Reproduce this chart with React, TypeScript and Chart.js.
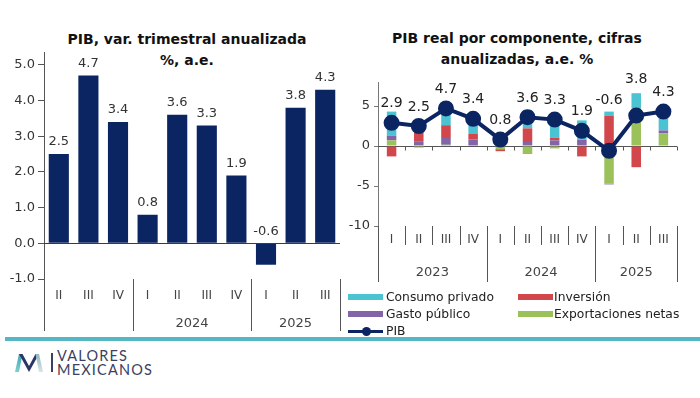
import React, { useEffect, useRef } from 'react';
import { Chart, registerables } from 'chart.js';

Chart.register(...registerables);

const FONT = "'DejaVu Sans', Verdana, sans-serif";

// ---- Left chart data ----
const leftQuarters = ['II', 'III', 'IV', 'I', 'II', 'III', 'IV', 'I', 'II', 'III'];
const leftYearLabels = ['', '2024', '2025'];
const leftYearSpans = [3, 4, 3];
const gdpQuarterly = [2.5, 4.7, 3.4, 0.8, 3.6, 3.3, 1.9, -0.6, 3.8, 4.3];
const leftTicks = [-1, 0, 1, 2, 3, 4, 5];

// ---- Right chart data ----
const rightQuarters = ['I', 'II', 'III', 'IV', 'I', 'II', 'III', 'IV', 'I', 'II', 'III'];
const rightYearLabels = ['2023', '2024', '2025'];
const rightYearSpans = [4, 4, 3];
const consumoPrivado = [3.0, 0.0, 1.8, 1.8, 1.2, 2.3, 2.5, 2.4, 0.5, 1.9, 2.5];
const inversion = [-1.3, 1.5, 1.6, 0.7, -0.25, 1.7, 0.35, -1.3, 3.8, -2.65, 0.0];
const gastoPublico = [0.6, 0.6, 0.85, 0.8, 0.3, 0.5, 0.7, 0.8, -0.1, 0.0, 0.35];
const exportacionesNetas = [0.7, -0.2, 0.15, 0.0, -0.4, -1.0, -0.3, 0.0, -4.7, 4.7, 1.6];
const pibReal = [2.9, 2.5, 4.7, 3.4, 0.8, 3.6, 3.3, 1.9, -0.6, 3.8, 4.3];
const rightTicks = [-10, -5, 0, 5];

const NAVY = '#0B2563';
const CYAN = '#4BC3D3';
const RED = '#D2474B';
const PURPLE = '#8464A8';
const GREEN = '#9BC15A';
const AXIS = '#555';
const TXT = '#333';

function boundsFrom(spans: number[]) {
  const b = [0];
  let acc = 0;
  spans.forEach((s) => {
    acc += s;
    b.push(acc);
  });
  return b;
}

const leftDecor = {
  id: 'leftDecor',
  afterDatasetsDraw(chart: any) {
    const { ctx, chartArea: a, scales } = chart;
    const x = scales.x;
    const y = scales.y;
    const y0 = Math.round(y.getPixelForValue(0)) + 0.5;
    ctx.save();
    ctx.strokeStyle = '#3a3a3a';
    ctx.lineWidth = 1;
    ctx.beginPath();
    ctx.moveTo(a.left, y0);
    ctx.lineTo(a.right, y0);
    ctx.stroke();

    ctx.fillStyle = TXT;
    ctx.textAlign = 'center';
    ctx.textBaseline = 'middle';
    ctx.font = `13px ${FONT}`;
    const meta = chart.getDatasetMeta(0);
    meta.data.forEach((bar: any, i: number) => {
      const v = gdpQuarterly[i];
      const top = v >= 0 ? bar.y : y0;
      ctx.fillText(v.toFixed(1), bar.x, top - 12);
    });

    const step = (a.right - a.left) / leftQuarters.length;
    ctx.strokeStyle = AXIS;
    ctx.beginPath();
    boundsFrom(leftYearSpans).forEach((b) => {
      const px = Math.round(a.left + b * step) + 0.5;
      ctx.moveTo(px, a.bottom);
      ctx.lineTo(px, a.bottom + 52);
    });
    ctx.stroke();

    ctx.fillStyle = '#444';
    ctx.font = `12px ${FONT}`;
    leftQuarters.forEach((q, i) => ctx.fillText(q, x.getPixelForValue(i), a.bottom + 17));
    ctx.font = `13px ${FONT}`;
    let start = 0;
    leftYearLabels.forEach((lab, g) => {
      const end = start + leftYearSpans[g];
      ctx.fillText(lab, a.left + ((start + end) / 2) * step, a.bottom + 45);
      start = end;
    });
    ctx.restore();
  },
};

const rightLabelLift = [19, 19, 19, 19, 19, 19, 19, 19, 50, 36, 19];

const rightDecor = {
  id: 'rightDecor',
  beforeDatasetsDraw(chart: any) {
    const { ctx, chartArea: a, scales } = chart;
    const y = scales.y;
    const y0 = Math.round(y.getPixelForValue(0)) + 0.5;
    const step = (a.right - a.left) / rightQuarters.length;
    ctx.save();
    ctx.strokeStyle = AXIS;
    ctx.lineWidth = 1;
    ctx.beginPath();
    ctx.moveTo(a.left, y0);
    ctx.lineTo(a.right, y0);
    for (let i = 1; i <= rightQuarters.length; i++) {
      const px = Math.round(a.left + i * step) + 0.5;
      ctx.moveTo(px, y0);
      ctx.lineTo(px, y0 + 4);
    }
    ctx.stroke();
    ctx.restore();
  },
  afterDatasetsDraw(chart: any) {
    const { ctx, chartArea: a, scales } = chart;
    const x = scales.x;
    const step = (a.right - a.left) / rightQuarters.length;
    ctx.save();
    ctx.fillStyle = '#222';
    ctx.textAlign = 'center';
    ctx.textBaseline = 'middle';
    ctx.font = `14px ${FONT}`;
    const meta = chart.getDatasetMeta(4);
    meta.data.forEach((pt: any, i: number) => {
      ctx.fillText(pibReal[i].toFixed(1), pt.x, pt.y - rightLabelLift[i]);
    });

    ctx.strokeStyle = AXIS;
    ctx.lineWidth = 1;
    ctx.beginPath();
    const groups = boundsFrom(rightYearSpans);
    for (let i = 0; i <= rightQuarters.length; i++) {
      const px = Math.round(a.left + i * step) + 0.5;
      const isGroup = groups.indexOf(i) >= 0;
      ctx.moveTo(px, a.bottom);
      ctx.lineTo(px, a.bottom + (isGroup ? 56 : 19));
    }
    ctx.stroke();

    ctx.fillStyle = '#444';
    ctx.font = `12px ${FONT}`;
    rightQuarters.forEach((q, i) => ctx.fillText(q, x.getPixelForValue(i), a.bottom + 14));
    ctx.font = `13px ${FONT}`;
    let start = 0;
    rightYearLabels.forEach((lab, g) => {
      const end = start + rightYearSpans[g];
      ctx.fillText(lab, a.left + ((start + end) / 2) * step, a.bottom + 47);
      start = end;
    });
    ctx.restore();
  },
};

function LeftChart() {
  const ref = useRef<HTMLCanvasElement>(null);
  useEffect(() => {
    if (!ref.current) return;
    const chart = new Chart(ref.current, {
      type: 'bar',
      data: {
        labels: leftQuarters,
        datasets: [
          {
            label: 'PIB',
            data: gdpQuarterly,
            backgroundColor: NAVY,
            barPercentage: 0.68,
            categoryPercentage: 1,
          },
        ],
      },
      options: {
        responsive: false,
        animation: false,
        devicePixelRatio: 1,
        layout: { padding: { left: 0, right: 5, top: 52, bottom: 61 } },
        plugins: { legend: { display: false }, tooltip: { enabled: false }, title: { display: false } },
        scales: {
          x: { display: false },
          y: {
            min: -1,
            max: 5.36,
            afterBuildTicks: (s: any) => {
              s.ticks = leftTicks.map((v) => ({ value: v }));
            },
            afterFit: (s: any) => {
              s.width = 44;
            },
            ticks: {
              callback: (v: any) => Number(v).toFixed(1),
              font: { family: FONT, size: 13 },
              color: TXT,
              padding: 3,
            },
            grid: { drawOnChartArea: false, drawTicks: true, tickLength: 6, color: AXIS },
            border: { display: true, color: AXIS },
          },
        },
      },
      plugins: [leftDecor],
    });
    return () => chart.destroy();
  }, []);
  return (
    <canvas
      ref={ref}
      width={345}
      height={340}
      style={{ position: 'absolute', left: 0, top: 0, width: 345, height: 340 }}
    />
  );
}

function RightChart() {
  const ref = useRef<HTMLCanvasElement>(null);
  useEffect(() => {
    if (!ref.current) return;
    const chart = new Chart(ref.current, {
      type: 'bar',
      data: {
        labels: rightQuarters,
        datasets: [
          { type: 'bar', label: 'Exportaciones netas', data: exportacionesNetas, backgroundColor: GREEN, order: 1 },
          { type: 'bar', label: 'Gasto público', data: gastoPublico, backgroundColor: PURPLE, order: 1 },
          { type: 'bar', label: 'Inversión', data: inversion, backgroundColor: RED, order: 1 },
          { type: 'bar', label: 'Consumo privado', data: consumoPrivado, backgroundColor: CYAN, order: 1 },
          {
            type: 'line',
            label: 'PIB',
            data: pibReal,
            stack: 'pib',
            borderColor: NAVY,
            backgroundColor: NAVY,
            borderWidth: 4,
            pointRadius: 6,
            pointBackgroundColor: NAVY,
            pointBorderColor: NAVY,
            tension: 0,
            order: 0,
          } as any,
        ],
      },
      options: {
        responsive: false,
        animation: false,
        devicePixelRatio: 1,
        datasets: { bar: { barPercentage: 0.35, categoryPercentage: 1 } } as any,
        layout: { padding: { left: 0, right: 23, top: 82, bottom: 64 } },
        plugins: { legend: { display: false }, tooltip: { enabled: false }, title: { display: false } },
        scales: {
          x: { display: false, stacked: true },
          y: {
            stacked: true,
            min: -10,
            max: 8,
            afterBuildTicks: (s: any) => {
              s.ticks = rightTicks.map((v) => ({ value: v }));
            },
            afterFit: (s: any) => {
              s.width = 33;
            },
            ticks: { font: { family: FONT, size: 13 }, color: TXT, padding: 4 },
            grid: { drawOnChartArea: false, drawTicks: true, tickLength: 4, color: '#777' },
            border: { display: true, color: '#777' },
          },
        },
      },
      plugins: [rightDecor],
    });
    return () => chart.destroy();
  }, []);
  return (
    <canvas
      ref={ref}
      width={355}
      height={290}
      style={{ position: 'absolute', left: 345, top: 0, width: 355, height: 290 }}
    />
  );
}

const legendText: React.CSSProperties = {
  position: 'absolute',
  fontFamily: FONT,
  fontSize: 12.3,
  color: '#222',
  lineHeight: '16px',
  whiteSpace: 'nowrap',
};

function Swatch({ x, y, color }: { x: number; y: number; color: string }) {
  return <div style={{ position: 'absolute', left: x, top: y - 3, width: 35, height: 6, background: color }} />;
}

function Legend() {
  return (
    <>
      <Swatch x={348} y={297} color={CYAN} />
      <div style={{ ...legendText, left: 386, top: 289 }}>Consumo privado</div>
      <Swatch x={518} y={297} color={RED} />
      <div style={{ ...legendText, left: 554, top: 289 }}>Inversión</div>
      <Swatch x={348} y={314} color={PURPLE} />
      <div style={{ ...legendText, left: 386, top: 306 }}>Gasto público</div>
      <Swatch x={518} y={314} color={GREEN} />
      <div style={{ ...legendText, left: 554, top: 306 }}>Exportaciones netas</div>
      <div style={{ position: 'absolute', left: 348, top: 330, width: 35, height: 3, background: NAVY }} />
      <div
        style={{ position: 'absolute', left: 362, top: 327, width: 9, height: 9, borderRadius: '50%', background: NAVY }}
      />
      <div style={{ ...legendText, left: 386, top: 323 }}>PIB</div>
    </>
  );
}

function Logo() {
  return (
    <>
      <div style={{ position: 'absolute', left: 5, top: 337, width: 695, height: 3.5, background: '#55B7C3' }} />
      <svg width={40} height={30} style={{ position: 'absolute', left: 12, top: 350 }}>
        <defs>
          <linearGradient id="lg1" x1="0" y1="1" x2="0" y2="0">
            <stop offset="0" stopColor="#7fd0cb" />
            <stop offset="1" stopColor="#3aa7b5" />
          </linearGradient>
          <linearGradient id="lg2" x1="0" y1="1" x2="0" y2="0">
            <stop offset="0" stopColor="#d8e4e6" />
            <stop offset="1" stopColor="#8fb7c0" />
          </linearGradient>
        </defs>
        <polygon points="3,22 7,4 10.5,4 7,22" fill="url(#lg1)" />
        <polygon points="7,4 10.5,4 17,16 23.5,4 27,4 17,22" fill="#2b3566" />
        <polygon points="23.5,4 27,4 31,22 27,22" fill="url(#lg2)" />
      </svg>
      <div style={{ position: 'absolute', left: 51, top: 353, width: 1.5, height: 19, background: '#3b4160' }} />
      <div
        style={{
          position: 'absolute',
          left: 57,
          top: 349,
          fontFamily: "Lato, 'Open Sans', sans-serif",
          fontWeight: 400,
          fontSize: 14.5,
          lineHeight: '13.5px',
          letterSpacing: 1.2,
          color: '#3b4160',
        }}
      >
        <div>VALORES</div>
        <div>MEXICANOS</div>
      </div>
    </>
  );
}

const titleStyle: React.CSSProperties = {
  position: 'absolute',
  width: 320,
  textAlign: 'center',
  fontFamily: FONT,
  fontWeight: 'bold',
  fontSize: 14,
  lineHeight: '21px',
  color: '#111',
};

export default function App() {
  useEffect(() => {
    document.body.style.margin = '0';
  }, []);
  return (
    <div style={{ position: 'absolute', left: 0, top: 0, width: 700, height: 398, background: '#fff', overflow: 'hidden' }}>
      <div style={{ ...titleStyle, left: 187 - 160, top: 29 }}>
        PIB, var. trimestral anualizada
        <br />
        %, a.e.
      </div>
      <div style={{ ...titleStyle, left: 517 - 160, top: 27.5 }}>
        PIB real por componente, cifras
        <br />
        anualizadas, a.e. %
      </div>
      <LeftChart />
      <RightChart />
      <Legend />
      <Logo />
    </div>
  );
}
